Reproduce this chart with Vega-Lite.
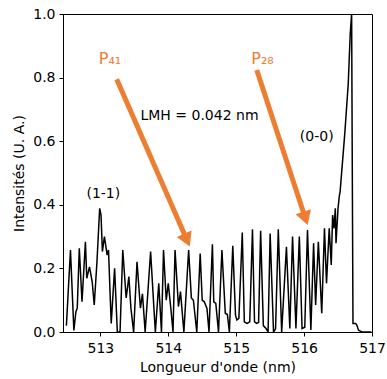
{
  "$schema": "https://vega.github.io/schema/vega-lite/v6.json",
  "width": 309,
  "height": 318,
  "autosize": {"type": "none"},
  "padding": {"left": 63, "top": 14, "right": 15, "bottom": 47},
  "config": {
    "font": "DejaVu Sans",
    "view": {"stroke": "black", "strokeWidth": 1},
    "axis": {"domainColor": "black", "tickColor": "black", "labelColor": "black", "titleColor": "black", "labelFont": "DejaVu Sans", "titleFont": "DejaVu Sans", "labelFontSize": 14, "titleFontSize": 14, "titleFontWeight": "normal", "tickSize": 4, "grid": false}
  },
  "datasets": {
    "spectrum": [
      {"wl": 512.50, "I": 0.02}, {"wl": 512.56, "I": 0.258}, {"wl": 512.61, "I": 0.005}, {"wl": 512.64, "I": 0.064},
      {"wl": 512.66, "I": 0.075}, {"wl": 512.69, "I": 0.263}, {"wl": 512.73, "I": 0.095}, {"wl": 512.78, "I": 0.284},
      {"wl": 512.80, "I": 0.169}, {"wl": 512.84, "I": 0.205}, {"wl": 512.88, "I": 0.158}, {"wl": 512.91, "I": 0.085},
      {"wl": 512.95, "I": 0.221}, {"wl": 512.99, "I": 0.389}, {"wl": 513.01, "I": 0.368}, {"wl": 513.03, "I": 0.253},
      {"wl": 513.06, "I": 0.30}, {"wl": 513.10, "I": 0.242}, {"wl": 513.12, "I": 0.258}, {"wl": 513.16, "I": 0.027},
      {"wl": 513.21, "I": 0.20}, {"wl": 513.25, "I": 0.0}, {"wl": 513.29, "I": 0.0}, {"wl": 513.33, "I": 0.258},
      {"wl": 513.38, "I": 0.107}, {"wl": 513.42, "I": 0.174}, {"wl": 513.45, "I": 0.075}, {"wl": 513.49, "I": 0.0},
      {"wl": 513.54, "I": 0.221}, {"wl": 513.59, "I": 0.075}, {"wl": 513.62, "I": 0.12}, {"wl": 513.66, "I": 0.0},
      {"wl": 513.74, "I": 0.253}, {"wl": 513.79, "I": 0.07}, {"wl": 513.81, "I": 0.0}, {"wl": 513.86, "I": 0.153},
      {"wl": 513.90, "I": 0.0}, {"wl": 513.93, "I": 0.258}, {"wl": 513.97, "I": 0.10}, {"wl": 514.00, "I": 0.153},
      {"wl": 514.04, "I": 0.07}, {"wl": 514.07, "I": 0.0}, {"wl": 514.10, "I": 0.258}, {"wl": 514.15, "I": 0.08},
      {"wl": 514.18, "I": 0.127}, {"wl": 514.23, "I": 0.0}, {"wl": 514.30, "I": 0.258}, {"wl": 514.34, "I": 0.107},
      {"wl": 514.37, "I": 0.10}, {"wl": 514.42, "I": 0.0}, {"wl": 514.47, "I": 0.247}, {"wl": 514.50, "I": 0.10},
      {"wl": 514.53, "I": 0.095}, {"wl": 514.57, "I": 0.074}, {"wl": 514.60, "I": 0.0}, {"wl": 514.65, "I": 0.276},
      {"wl": 514.67, "I": 0.095}, {"wl": 514.70, "I": 0.09}, {"wl": 514.74, "I": 0.0}, {"wl": 514.79, "I": 0.258},
      {"wl": 514.84, "I": 0.059}, {"wl": 514.87, "I": 0.055}, {"wl": 514.90, "I": 0.0}, {"wl": 514.95, "I": 0.271},
      {"wl": 514.99, "I": 0.053}, {"wl": 515.01, "I": 0.038}, {"wl": 515.04, "I": 0.043}, {"wl": 515.09, "I": 0.313},
      {"wl": 515.12, "I": 0.032}, {"wl": 515.16, "I": 0.027}, {"wl": 515.20, "I": 0.032}, {"wl": 515.24, "I": 0.323},
      {"wl": 515.27, "I": 0.032}, {"wl": 515.30, "I": 0.027}, {"wl": 515.33, "I": 0.03}, {"wl": 515.36, "I": 0.318},
      {"wl": 515.40, "I": 0.02}, {"wl": 515.44, "I": 0.011}, {"wl": 515.47, "I": 0.0}, {"wl": 515.50, "I": 0.31},
      {"wl": 515.55, "I": 0.0}, {"wl": 515.58, "I": 0.01}, {"wl": 515.62, "I": 0.323}, {"wl": 515.67, "I": 0.0},
      {"wl": 515.74, "I": 0.268}, {"wl": 515.79, "I": 0.011}, {"wl": 515.83, "I": 0.30}, {"wl": 515.88, "I": 0.011},
      {"wl": 515.93, "I": 0.30}, {"wl": 515.97, "I": 0.011}, {"wl": 516.01, "I": 0.015}, {"wl": 516.05, "I": 0.321},
      {"wl": 516.10, "I": 0.006}, {"wl": 516.14, "I": 0.279}, {"wl": 516.17, "I": 0.085}, {"wl": 516.21, "I": 0.284},
      {"wl": 516.26, "I": 0.059}, {"wl": 516.30, "I": 0.326}, {"wl": 516.33, "I": 0.153}, {"wl": 516.37, "I": 0.326},
      {"wl": 516.40, "I": 0.211}, {"wl": 516.42, "I": 0.368}, {"wl": 516.44, "I": 0.326}, {"wl": 516.46, "I": 0.389},
      {"wl": 516.47, "I": 0.279}, {"wl": 516.50, "I": 0.389}, {"wl": 516.52, "I": 0.43}, {"wl": 516.53, "I": 0.44},
      {"wl": 516.60, "I": 0.626}, {"wl": 516.65, "I": 0.78}, {"wl": 516.68, "I": 0.94}, {"wl": 516.70, "I": 1.0},
      {"wl": 516.71, "I": 0.5}, {"wl": 516.72, "I": 0.027}, {"wl": 516.76, "I": 0.027}, {"wl": 516.78, "I": 0.02},
      {"wl": 516.80, "I": 0.006}, {"wl": 516.85, "I": 0.0}, {"wl": 516.99, "I": 0.0}
    ],
    "arrows": [
      {"name": "P41", "x0": 513.241, "y0": 0.795, "x1": 514.275, "y1": 0.289},
      {"name": "P28", "x0": 515.303, "y0": 0.824, "x1": 516.02, "y1": 0.357}
    ],
    "orangeLabels": [
      {"x": 513.142, "y": 0.857, "label": "P₄₁"},
      {"x": 515.388, "y": 0.857, "label": "P₂₈"}
    ],
    "blackLabels": [
      {"x": 514.46, "y": 0.678, "label": "LMH = 0.042 nm"},
      {"x": 513.044, "y": 0.434, "label": "(1-1)"},
      {"x": 516.186, "y": 0.612, "label": "(0-0)"}
    ]
  },
  "layer": [
    {
      "data": {"name": "spectrum"},
      "mark": {"type": "line", "color": "black", "strokeWidth": 1.5, "clip": true},
      "encoding": {
        "x": {"field": "wl", "type": "quantitative", "scale": {"domain": [512.45, 517], "nice": false, "zero": false},
              "axis": {"title": "Longueur d'onde (nm)", "values": [513, 513.5, 514, 514.5, 515, 515.5, 516, 516.5, 517],
                       "labelExpr": "datum.value % 1 === 0 ? format(datum.value, 'd') : ''",
                       "tickColor": {"condition": {"test": "datum.value % 1 !== 0", "value": "red"}, "value": "black"},
                       "labelPadding": 5, "titlePadding": 5, "labelFlush": false}},
        "y": {"field": "I", "type": "quantitative", "scale": {"domain": [0, 1], "nice": false},
              "axis": {"title": "Intensités (U. A.)", "values": [0, 0.2, 0.4, 0.6, 0.8, 1.0], "format": ".1f", "labelPadding": 4, "titlePadding": 6, "labelFlush": false}}
      }
    },
    {
      "data": {"name": "arrows"},
      "mark": {"type": "rule", "color": "#ED7D31", "strokeWidth": 5},
      "encoding": {
        "x": {"field": "x0", "type": "quantitative"},
        "y": {"field": "y0", "type": "quantitative"},
        "x2": {"field": "x1"},
        "y2": {"field": "y1"}
      }
    },
    {
      "data": {"name": "arrows"},
      "transform": [{"filter": "datum.name === 'P41'"}],
      "mark": {"type": "point", "shape": "triangle-down", "filled": true, "color": "#ED7D31", "size": 260, "angle": 336.4, "opacity": 1},
      "encoding": {
        "x": {"field": "x1", "type": "quantitative"},
        "y": {"field": "y1", "type": "quantitative"}
      }
    },
    {
      "data": {"name": "arrows"},
      "transform": [{"filter": "datum.name === 'P28'"}],
      "mark": {"type": "point", "shape": "triangle-down", "filled": true, "color": "#ED7D31", "size": 260, "angle": 341.8, "opacity": 1},
      "encoding": {
        "x": {"field": "x1", "type": "quantitative"},
        "y": {"field": "y1", "type": "quantitative"}
      }
    },
    {
      "data": {"name": "orangeLabels"},
      "mark": {"type": "text", "color": "#ED7D31", "fontSize": 16, "font": "DejaVu Sans", "align": "center", "baseline": "middle"},
      "encoding": {
        "x": {"field": "x", "type": "quantitative"},
        "y": {"field": "y", "type": "quantitative"},
        "text": {"field": "label"}
      }
    },
    {
      "data": {"name": "blackLabels"},
      "mark": {"type": "text", "color": "black", "fontSize": 14, "font": "DejaVu Sans", "align": "center", "baseline": "middle"},
      "encoding": {
        "x": {"field": "x", "type": "quantitative"},
        "y": {"field": "y", "type": "quantitative"},
        "text": {"field": "label"}
      }
    }
  ]
}
